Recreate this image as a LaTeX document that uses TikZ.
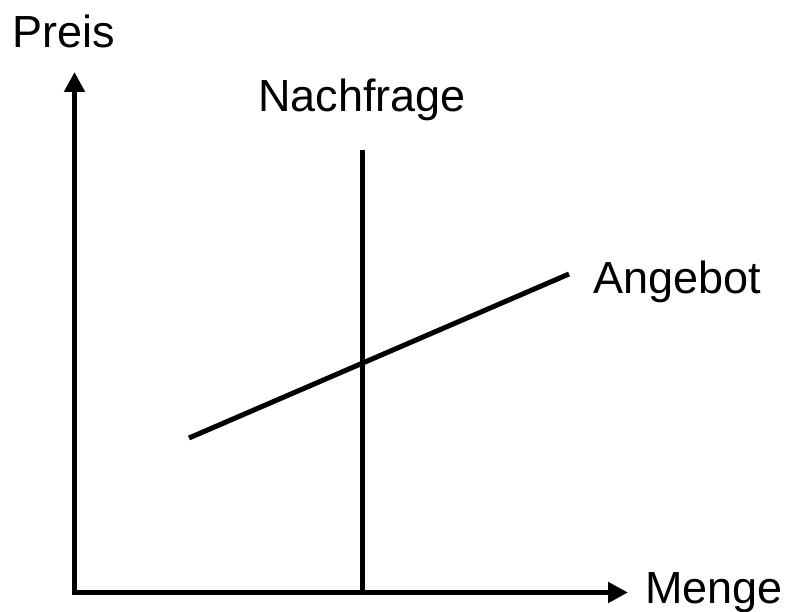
\documentclass[tikz,border=0pt]{standalone}
\usepackage{fontspec}
\setmainfont{Liberation Sans}
\usetikzlibrary{arrows.meta}

\begin{document}
\begin{tikzpicture}[
		x=1pt,
		y=-1pt,
		label/.style={
			inner sep=0pt,
			font=\fontsize{45}{54}\selectfont
		},
		axis/.style={
			{Triangle[length=20pt,width=20pt]}-{Triangle[length=20pt,width=20pt]},
			line width=5pt,
			line join=miter
		},
		curve/.style={
			line width=5pt
		}
		]
		
		\useasboundingbox (0,0) rectangle (792,612);
		
		\coordinate (ytop) at (74.5,72);
		\coordinate (origin) at (74.5,592.5);
		\coordinate (xend) at (628,592.5);
		
		\coordinate (nfTop) at (362,150);
		\coordinate (nfBottom) at (362,592.5);
		
		\coordinate (abLow) at (189,438);
		\coordinate (abHigh) at (569,274);
		
		\node[label, anchor=base west] (preis) at (12,48) {Preis};
		\node[label, anchor=base west] (menge) at (645,603) {Menge};
		\node[label, anchor=base] (nachfrage) at (362,112) {Nachfrage};
		\node[label, anchor=base west] (angebot) at (593,293) {Angebot};
		
		\draw[axis] (ytop) -- (origin) -- (xend);
		
		\draw[curve] (nfTop) -- (nfBottom);
		\draw[curve] (abLow) -- (abHigh);
		
	\end{tikzpicture}
\end{document}
